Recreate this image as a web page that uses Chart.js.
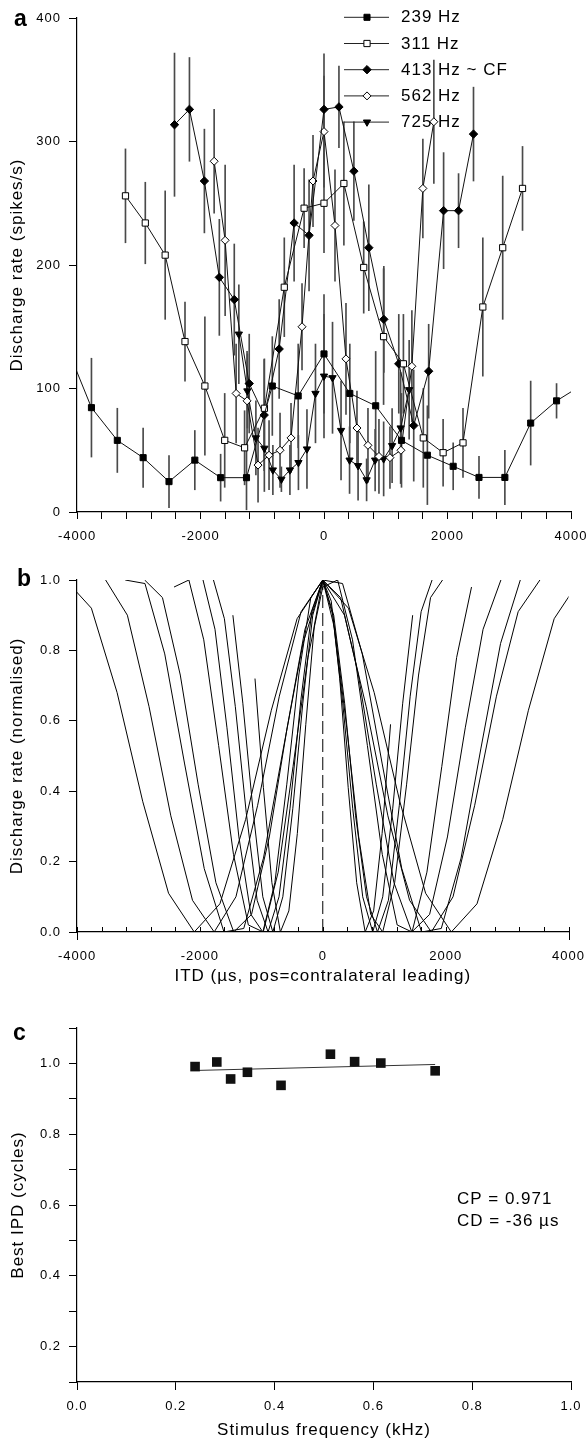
<!DOCTYPE html>
<html>
<head>
<meta charset="utf-8">
<script src="https://cdn.jsdelivr.net/npm/chart.js@4.4.1/dist/chart.umd.min.js"></script>
<style>
  html, body { margin:0; padding:0; background:#fff; }
  body { width:587px; height:1441px; position:relative; overflow:hidden; }
  canvas { position:absolute; left:0; display:block; }
</style>
</head>
<body>
<canvas id="panelA" width="600" height="550" style="top:0px;width:600px;height:550px"></canvas>
<canvas id="panelB" width="600" height="440" style="top:550px;width:600px;height:440px"></canvas>
<canvas id="panelC" width="600" height="451" style="top:990px;width:600px;height:451px"></canvas>
<script>
// ================= DATA =================
// ITD sample positions (µs) per stimulus frequency (tenth-period steps)
const ITD_239 = [-4184,-3766,-3347,-2929,-2510,-2092,-1674,-1255,-837,-418,0,418,837,1255,1674,2092,2510,2929,3347,3766,4184];
const ITD_283 = [-3534,-3180,-2827,-2473,-2120,-1767,-1413,-1060,-707,-353,0,353,707,1060,1413,1767,2120,2473,2827,3180,3534];
const ITD_311 = [-3215,-2894,-2572,-2251,-1929,-1608,-1286,-965,-643,-322,0,322,643,965,1286,1608,1929,2251,2572,2894,3215];
const ITD_345 = [-2899,-2609,-2319,-2029,-1739,-1449,-1159,-870,-580,-290,0,290,580,870,1159,1449,1739,2029,2319,2609,2899];
const ITD_413 = [-2421,-2179,-1937,-1695,-1453,-1211,-969,-726,-484,-242,0,242,484,726,969,1211,1453,1695,1937,2179,2421];
const ITD_513 = [-1949,-1754,-1559,-1365,-1170,-975,-780,-585,-390,-195,0,195,390,585,780,975,1170,1365,1559,1754,1949];
const ITD_562 = [-1779,-1601,-1423,-1246,-1068,-890,-712,-534,-356,-178,0,178,356,534,712,890,1068,1246,1423,1601,1779];
const ITD_615 = [-1463,-1301,-1138,-976,-813,-650,-488,-325,-163,0,163,325,488,650,813,976,1138,1301,1463];
const ITD_725 = [-1103,-966,-828,-690,-552,-414,-276,-138,0,138,276,414,552,690,828,966,1103];
const ITD_725A = [-1379,-1241,-1103,-966,-828,-690,-552,-414,-276,-138,0,138,276,414,552,690,828,966,1103,1241,1379];

// Panel a: discharge rate (spikes/s) and error half-widths
const RATE_239 = [136,84.5,58,44,24.6,42,27.8,27.8,102,94,128,96,86,58,46,37,28,28,72,90,103];
const ERR_239  = [0,40,26,24,21,24,19,26,40,42,48,40,44,38,40,19,17,22,34,14,0];
const RATE_311 = [256,234,208,138,102,58,52,84,182,246,250,266,198,142,120,60,48,56,166,214,262];
const ERR_311  = [38,33,52,32,56,38,30,40,40,32,40,50,37,55,40,40,27,28,56,58,34];
const RATE_413 = [313.6,326,268,190,172,104,78.5,132,234,224,326,328,276,214,156,120,70,114,244,244,306];
const ERR_413  = [58,42,42,47,45,40,45,40,47,45,45,33,40,51,43,40,45,38,47,30,38];
const RATE_562 = [284,220,96,90,38,46,50,60,150,268,308,232,124,68,54,45,44,50,118,262,316];
const ERR_562  = [42,61,40,40,30,28,30,28,35,37,45,45,45,30,30,30,25,25,45,40,50];
const RATE_725 = [144,98,60,51.6,34,26.5,34,40,51,96,110,108.7,66,42,37.5,26,42,43,53.7,68,99];
const ERR_725  = [40,30,30,35,20,10,20,22,32,40,50,45,40,27,28,17,25,30,30,45,40];
const LEGEND_A = ['239 Hz','311 Hz','413 Hz ~ CF','562 Hz','725 Hz'];

// Panel b: normalised discharge rate
const NORM_239 = [1.0,0.92,0.68,0.37,0.11,0.0,0.08,0.32,0.63,0.89,1.0,0.92,0.68,0.37,0.11,0.0,0.08,0.32,0.63,0.89,1.0];
const NORM_283 = [1.0,0.90,0.64,0.33,0.09,0.0,0.10,0.36,0.67,0.91,1.0,0.90,0.64,0.33,0.09,0.0,0.10,0.36,0.67,0.91,1.0];
const NORM_311 = [1.0,0.99,0.79,0.48,0.18,0.0,0.01,0.21,0.52,0.82,1.0,0.99,0.79,0.48,0.18,0.0,0.01,0.21,0.52,0.82,1.0];
const NORM_345 = [1.0,0.95,0.73,0.42,0.14,0.0,0.05,0.27,0.58,0.86,1.0,0.95,0.73,0.42,0.14,0.0,0.05,0.27,0.58,0.86,1.0];
const NORM_413 = [0.98,1.0,0.83,0.53,0.22,0.02,0.0,0.17,0.47,0.78,0.98,1.0,0.83,0.53,0.22,0.02,0.0,0.17,0.47,0.78,0.98];
const NORM_513 = [1.0,0.86,0.58,0.27,0.05,0.0,0.14,0.42,0.73,0.95,1.0,0.86,0.58,0.27,0.05,0.0,0.14,0.42,0.73,0.95,1.0];
const NORM_562 = [1.0,0.89,0.64,0.34,0.09,0.0,0.10,0.35,0.66,0.91,1.0,0.90,0.65,0.33,0.10,0.0,0.09,0.36,0.67,0.91,1.0];
const NORM_615 = [0.90,0.65,0.35,0.10,0.0,0.10,0.35,0.65,0.90,1.0,0.90,0.65,0.35,0.10,0.0,0.10,0.35,0.65,0.90];
const NORM_725 = [0.72,0.41,0.14,0.0,0.06,0.28,0.59,0.87,1.0,0.94,0.72,0.41,0.14,0.0,0.06,0.28,0.59];
const ZERO_LINE_X = [0, 0];
const ZERO_LINE_Y = [0, 1];
const MINOR_TICKS_B = [-4000,-3600,-3200,-2800,-2400,-2000,-1600,-1200,-800,-400,0,400,800,1200,1600,2000,2400,2800,3200,3600,4000];

// Panel c: best IPD vs stimulus frequency
const FREQ_KHZ = [0.239,0.283,0.311,0.345,0.413,0.513,0.562,0.615,0.725];
const BEST_IPD = [0.991,1.004,0.956,0.975,0.938,1.026,1.005,1.001,0.979];
const FIT_X = [0.239, 0.725];
const FIT_Y = [0.980, 0.997];
const CP_TEXT = 'CP = 0.971';
const CD_TEXT = 'CD = -36 µs';

// ================= SETUP =================
const FONT = '"Liberation Sans", Arial, Helvetica, sans-serif';
Chart.defaults.font.family = FONT;
Chart.defaults.font.size = 13;
Chart.defaults.color = '#000';
Chart.defaults.animation = false;
Chart.defaults.responsive = false;
Chart.defaults.devicePixelRatio = 1;
Chart.defaults.plugins.legend.display = false;
Chart.defaults.plugins.tooltip.enabled = false;

const PAD_RIGHT = 29; // canvas is 600 wide; plot area ends at x = 571

function pts(xs, ys) { return xs.map((x, i) => ({x: x, y: ys[i]})); }
function errs(xs, ys, es) { return xs.map((x, i) => ({x: x, y: [ys[i] - es[i], ys[i] + es[i]]})); }

const spacing = { id: 'spacing', beforeDraw(c) { c.ctx.letterSpacing = '1px'; } };

function panelLabel(text, x, y) {
  return { id: 'panelLabel', afterDraw(c) {
    const ctx = c.ctx; ctx.save();
    ctx.font = 'bold 23px ' + FONT; ctx.fillStyle = '#000';
    ctx.textAlign = 'left'; ctx.textBaseline = 'alphabetic';
    ctx.fillText(text, x, y); ctx.restore();
  } };
}

function drawMarker(ctx, style, r, rot, x, y, fill) {
  ctx.fillStyle = fill; ctx.strokeStyle = '#000'; ctx.lineWidth = 1;
  if (Chart.helpers && Chart.helpers.drawPoint) {
    Chart.helpers.drawPoint(ctx, {pointStyle: style, radius: r, rotation: rot || 0, borderWidth: 1}, x, y);
    return;
  }
  ctx.beginPath();
  if (style === 'rect') { const s = r * Math.SQRT1_2; ctx.rect(x - s, y - s, 2 * s, 2 * s); }
  else if (style === 'rectRot') { ctx.moveTo(x, y - r); ctx.lineTo(x + r, y); ctx.lineTo(x, y + r); ctx.lineTo(x - r, y); ctx.closePath(); }
  else { ctx.moveTo(x, y + r); ctx.lineTo(x + r * 0.866, y - r / 2); ctx.lineTo(x - r * 0.866, y - r / 2); ctx.closePath(); }
  ctx.fill(); ctx.stroke();
}

const AXIS_BORDER = { display: true, color: '#000', width: 1.2 };
function tickGrid(len) { return { display: true, drawOnChartArea: false, drawTicks: true, tickLength: len, color: '#000', tickColor: '#000', offset: false }; }

// ================= PANEL A =================
const SERIES_A = [
  {itd: ITD_239, rate: RATE_239, err: ERR_239, style: 'rect', r: 4.3, rot: 0, fill: '#000'},
  {itd: ITD_311, rate: RATE_311, err: ERR_311, style: 'rect', r: 4.4, rot: 0, fill: '#fff'},
  {itd: ITD_413, rate: RATE_413, err: ERR_413, style: 'rectRot', r: 4.2, rot: 0, fill: '#000'},
  {itd: ITD_562, rate: RATE_562, err: ERR_562, style: 'rectRot', r: 4.0, rot: 0, fill: '#fff'},
  {itd: ITD_725A, rate: RATE_725, err: ERR_725, style: 'triangle', r: 4.2, rot: 180, fill: '#000'}
];

const dsA = [];
SERIES_A.forEach((s, i) => {
  dsA.push({
    type: 'line', label: LEGEND_A[i], data: pts(s.itd, s.rate),
    borderColor: '#111', borderWidth: 1, tension: 0,
    pointStyle: s.style, pointRadius: s.r, pointRotation: s.rot,
    pointBackgroundColor: s.fill, pointBorderColor: '#000', pointBorderWidth: 1, clip: 0
  });
});
SERIES_A.forEach((s) => {
  dsA.push({
    type: 'bar', data: errs(s.itd, s.rate, s.err),
    backgroundColor: '#4a4a4a', borderWidth: 0, barThickness: 1, grouped: false, clip: 0
  });
});

const legendA = { id: 'legendA', afterDraw(c) {
  const ctx = c.ctx; ctx.save();
  SERIES_A.forEach((s, i) => {
    const y = 17.3 + i * 26.2;
    ctx.strokeStyle = '#222'; ctx.lineWidth = 1;
    ctx.beginPath(); ctx.moveTo(344, y); ctx.lineTo(389, y); ctx.stroke();
    drawMarker(ctx, s.style, s.r, s.rot, 367, y, s.fill);
    ctx.font = '17px ' + FONT; ctx.fillStyle = '#000';
    ctx.textAlign = 'left'; ctx.textBaseline = 'middle';
    ctx.fillText(LEGEND_A[i], 401, y + 0.5);
  });
  ctx.restore();
} };

new Chart(document.getElementById('panelA'), {
  type: 'line',
  data: { datasets: dsA },
  options: {
    layout: { padding: { top: 18, right: PAD_RIGHT, left: 0, bottom: 0 } },
    scales: {
      x: { type: 'linear', min: -4000, max: 4000, offset: false,
        ticks: { stepSize: 400, autoSkip: false, maxRotation: 0, padding: 10,
          callback: v => (v % 2000 === 0 ? String(v) : '') },
        grid: tickGrid(7), border: AXIS_BORDER,
        afterFit: s => { s.height = 38; } },
      y: { type: 'linear', min: 0, max: 400, beginAtZero: false,
        ticks: { stepSize: 100, padding: 8, callback: v => String(v) },
        grid: tickGrid(8), border: AXIS_BORDER,
        title: { display: true, text: 'Discharge rate (spikes/s)', font: { size: 17 }, padding: { top: 7, bottom: 0 } },
        afterFit: s => { s.width = 77; } }
    }
  },
  plugins: [spacing, legendA, panelLabel('a', 14, 26)]
});

// ================= PANEL B =================
const NORM_SERIES = [
  [ITD_239, NORM_239], [ITD_283, NORM_283], [ITD_311, NORM_311], [ITD_345, NORM_345],
  [ITD_413, NORM_413], [ITD_513, NORM_513], [ITD_562, NORM_562], [ITD_615, NORM_615], [ITD_725, NORM_725]
];
const dsB = NORM_SERIES.map(p => ({
  type: 'line', data: pts(p[0], p[1]), borderColor: '#000', borderWidth: 1,
  pointRadius: 0, tension: 0, clip: 0
}));
dsB.push({ type: 'line', data: pts(ZERO_LINE_X, ZERO_LINE_Y), borderColor: '#000', borderWidth: 1,
  borderDash: [13, 5], pointRadius: 0, clip: 0 });

const ticksB = { id: 'ticksB', afterDraw(c) {
  const ctx = c.ctx, xs = c.scales.x, y0 = c.chartArea.bottom;
  ctx.save(); ctx.strokeStyle = '#000'; ctx.lineWidth = 1;
  MINOR_TICKS_B.forEach(v => {
    const px = Math.round(xs.getPixelForValue(v)) + 0.5;
    ctx.beginPath(); ctx.moveTo(px, y0); ctx.lineTo(px, y0 - 5); ctx.stroke();
    if (Math.abs(v) === 4000) { ctx.beginPath(); ctx.moveTo(px, y0); ctx.lineTo(px, y0 + 8); ctx.stroke(); }
  });
  ctx.restore();
} };

new Chart(document.getElementById('panelB'), {
  type: 'line',
  data: { datasets: dsB },
  options: {
    layout: { padding: { top: 30, right: PAD_RIGHT, left: 0, bottom: 0 } },
    scales: {
      x: { type: 'linear', min: -4000, max: 4000, offset: false,
        ticks: { stepSize: 2000, autoSkip: false, maxRotation: 0, padding: 17, callback: v => String(v) },
        grid: { display: false, drawTicks: false, offset: false }, border: AXIS_BORDER,
        title: { display: true, text: 'ITD (µs, pos=contralateral leading)', font: { size: 17 }, padding: { top: 0, bottom: 3 } },
        afterFit: s => { s.height = 58; } },
      y: { type: 'linear', min: 0, max: 1,
        ticks: { stepSize: 0.2, padding: 8, callback: v => v.toFixed(1) },
        grid: tickGrid(8), border: AXIS_BORDER,
        title: { display: true, text: 'Discharge rate (normalised)', font: { size: 17 }, padding: { top: 7, bottom: 0 } },
        afterFit: s => { s.width = 77; } }
    }
  },
  plugins: [spacing, ticksB, panelLabel('b', 17, 36)]
});

// ================= PANEL C =================
const notesC = { id: 'notesC', afterDraw(c) {
  const ctx = c.ctx, xs = c.scales.x, ys = c.scales.y;
  ctx.save(); ctx.font = '17px ' + FONT; ctx.fillStyle = '#000';
  ctx.textAlign = 'left'; ctx.textBaseline = 'middle';
  ctx.fillText(CP_TEXT, xs.getPixelForValue(0.769), ys.getPixelForValue(0.617));
  ctx.fillText(CD_TEXT, xs.getPixelForValue(0.769), ys.getPixelForValue(0.554));
  ctx.restore();
} };

new Chart(document.getElementById('panelC'), {
  type: 'line',
  data: { datasets: [
    { type: 'line', data: pts(FREQ_KHZ, BEST_IPD), showLine: false, pointStyle: 'rect', pointRadius: 6.8,
      pointBackgroundColor: '#111', pointBorderColor: '#111', pointBorderWidth: 0, clip: 0 },
    { type: 'line', data: pts(FIT_X, FIT_Y), borderColor: '#333', borderWidth: 1, pointRadius: 0, clip: 0 }
  ] },
  options: {
    layout: { padding: { top: 38, right: PAD_RIGHT, left: 0, bottom: 0 } },
    scales: {
      x: { type: 'linear', min: 0, max: 1, offset: false,
        ticks: { stepSize: 0.2, autoSkip: false, maxRotation: 0, padding: 9, callback: v => v.toFixed(1) },
        grid: tickGrid(8), border: AXIS_BORDER,
        title: { display: true, text: 'Stimulus frequency (kHz)', font: { size: 17 }, padding: { top: 0, bottom: 0 } },
        afterFit: s => { s.height = 59; } },
      y: { type: 'linear', min: 0.1, max: 1.1,
        ticks: { stepSize: 0.1, autoSkip: false, padding: 8,
          callback: v => { const t = Math.round(v * 10); return (t % 2 === 0 && t >= 2 && t <= 10) ? (t / 10).toFixed(1) : ''; } },
        grid: tickGrid(8), border: AXIS_BORDER,
        title: { display: true, text: 'Best IPD (cycles)', font: { size: 17 }, padding: { top: 8, bottom: 0 } },
        afterFit: s => { s.width = 77; } }
    }
  },
  plugins: [spacing, notesC, panelLabel('c', 13, 50)]
});
</script>
</body>
</html>
